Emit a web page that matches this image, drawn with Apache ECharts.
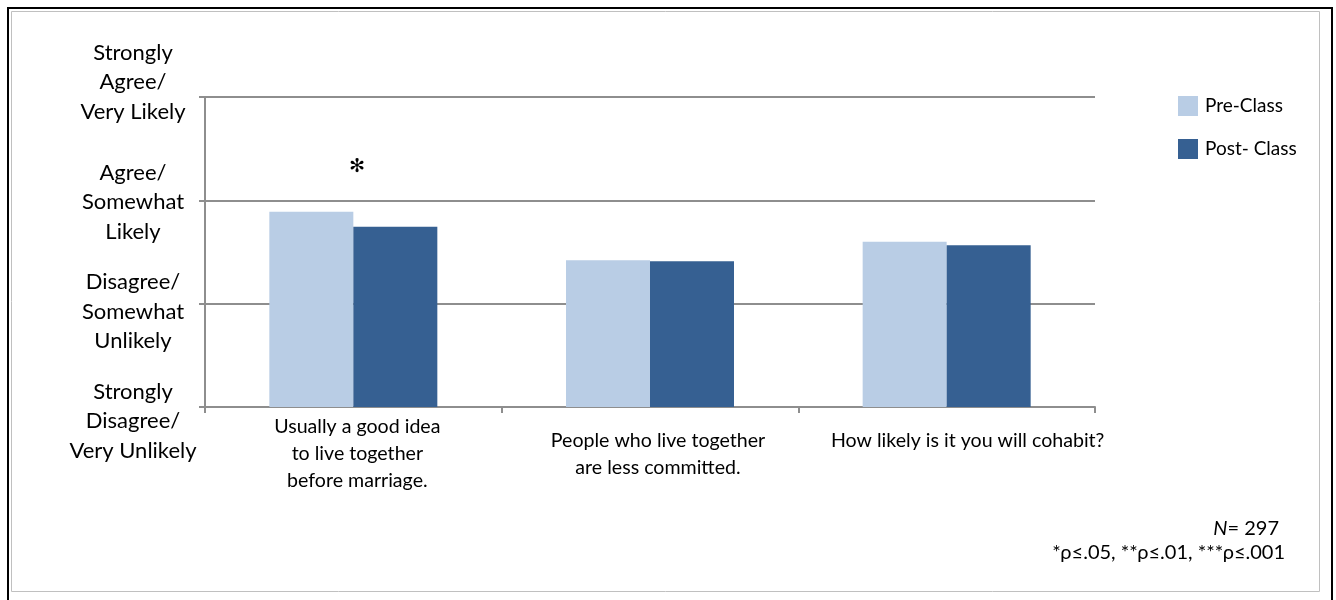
<!DOCTYPE html>
<html>
<head>
<meta charset="utf-8">
<script src="https://cdn.jsdelivr.net/npm/echarts@6/dist/echarts.min.js"></script>
<style>
html,body{margin:0;padding:0;background:#fff;}
#chart{width:1336px;height:600px;}
</style>
</head>
<body>
<div id="chart"></div>
<script>
// ---- data ----
var categories = [
  'Usually a good idea\nto live together\nbefore marriage.',
  'People who live together\nare less committed.',
  'How likely is it you will cohabit?'
];
var seriesNames = ['Pre-Class', 'Post- Class'];
var preClass = [2.89, 2.42, 2.60];
var postClass = [2.745, 2.41, 2.565];
var significance = ['✻', '', ''];
var yTickValues = [1, 2, 3, 4];
var yTickLabels = [
  'Strongly\nDisagree/\nVery Unlikely',
  'Disagree/\nSomewhat\nUnlikely',
  'Agree/\nSomewhat\nLikely',
  'Strongly\nAgree/\nVery Likely'
];
var footN = '297';
var footSig = '*ρ≤.05, **ρ≤.01, ***ρ≤.001';

// ---- chart ----
var FONT = 'Lato, "Open Sans", sans-serif';
var chart = echarts.init(document.getElementById('chart'));
var gridColor = '#8e8e8e';

// vertical nudge of each y label: spacer line heights placed above (top) or below (bottom)
var ySpacer = [{top: 28}, {top: 16}, {top: 4}, {bottom: 30}];
var xLabelShift = [8, 16, 42];

var yAxes = [{
  type: 'value',
  min: 1, max: 4, interval: 1,
  axisLine: {show: true, lineStyle: {color: gridColor, width: 2}},
  axisTick: {show: true, length: 6, lineStyle: {color: gridColor, width: 2}},
  splitLine: {show: true, lineStyle: {color: gridColor, width: 2}},
  axisLabel: {show: false}
}];
yTickValues.forEach(function (tv, i) {
  var sp = ySpacer[i];
  yAxes.push({
    type: 'value',
    min: 1, max: 4, interval: 1,
    position: 'left',
    axisLine: {show: false},
    axisTick: {show: false},
    splitLine: {show: false},
    axisLabel: {
      show: true,
      showMinLabel: true,
      showMaxLabel: true,
      margin: 72,
      align: 'center',
      verticalAlign: 'middle',
      fontFamily: FONT,
      fontSize: 22,
      lineHeight: 29.5,
      color: '#000',
      formatter: function (v) {
        if (v !== tv) return '';
        var lines = yTickLabels[i].split('\n').map(function (s) { return '{t|' + s + '}'; });
        if (sp.top) lines.unshift('{s| }');
        if (sp.bottom) lines.push('{s| }');
        return lines.join('\n');
      },
      rich: {
        t: {fontFamily: FONT, fontSize: 22, lineHeight: 29.5, color: '#000', align: 'center'},
        s: {fontSize: 1, lineHeight: sp.top || sp.bottom}
      }
    }
  });
});

var xRich = {};
xLabelShift.forEach(function (d, i) {
  xRich['c' + i] = {fontFamily: FONT, fontSize: 19.6, lineHeight: 27, color: '#000', padding: [0, 0, 0, d]};
});

var option = {
  animation: false,
  backgroundColor: '#ffffff',
  textStyle: {fontFamily: FONT},
  grid: {left: 205, right: 241, top: 97, bottom: 193, containLabel: false},
  legend: {
    orient: 'vertical',
    left: 1173,
    top: 91,
    itemWidth: 20,
    itemHeight: 20,
    itemGap: 23,
    icon: 'rect',
    textStyle: {fontFamily: FONT, fontSize: 19, color: '#000', padding: [0, 0, 0, 2]},
    data: seriesNames
  },
  xAxis: {
    type: 'category',
    data: categories,
    axisLine: {lineStyle: {color: gridColor, width: 2}},
    axisTick: {show: true, length: 6, lineStyle: {color: gridColor, width: 2}},
    axisLabel: {
      interval: 0,
      margin: 47,
      verticalAlign: 'middle',
      fontFamily: FONT,
      fontSize: 19.6,
      lineHeight: 27,
      color: '#000',
      formatter: function (v, idx) {
        var lines = v.split('\n');
        if (lines.length < 2) lines.push(' ');
        return lines.map(function (s) { return '{c' + idx + '|' + s + '}'; }).join('\n');
      },
      rich: xRich
    }
  },
  yAxis: yAxes,
  series: [
    {
      name: seriesNames[0],
      type: 'bar',
      data: preClass,
      barWidth: 84,
      barGap: '0%',
      itemStyle: {color: '#B9CDE5'},
      label: {
        show: true,
        position: [88, -45],
        align: 'center',
        verticalAlign: 'middle',
        fontFamily: '"DejaVu Sans", sans-serif',
        fontSize: 19,
        color: '#000',
        formatter: function (p) { return significance[p.dataIndex]; }
      }
    },
    {
      name: seriesNames[1],
      type: 'bar',
      data: postClass,
      barWidth: 84,
      barGap: '0%',
      itemStyle: {color: '#366092'}
    }
  ],
  graphic: [
    {type: 'rect', silent: true, shape: {x: 8, y: 8, width: 1324, height: 620},
     style: {fill: 'none', stroke: '#000', lineWidth: 2}},
    {type: 'rect', silent: true, shape: {x: 11.5, y: 11.5, width: 1308, height: 580},
     style: {fill: 'none', stroke: '#c0c0c0', lineWidth: 1}},
    {type: 'text', silent: true, right: 1336 - 1279, top: 519,
     style: {text: '{i|N}{r|= ' + footN + '}', align: 'right',
       rich: {i: {fontFamily: FONT, fontSize: 20, fontStyle: 'italic', fill: '#000'},
              r: {fontFamily: FONT, fontSize: 20, fill: '#000'}}}},
    {type: 'text', silent: true, right: 1336 - 1285, top: 543,
     style: {text: footSig, fontFamily: FONT, fontSize: 20, fill: '#000', align: 'right'}}
  ]
};
chart.setOption(option);
</script>
</body>
</html>
